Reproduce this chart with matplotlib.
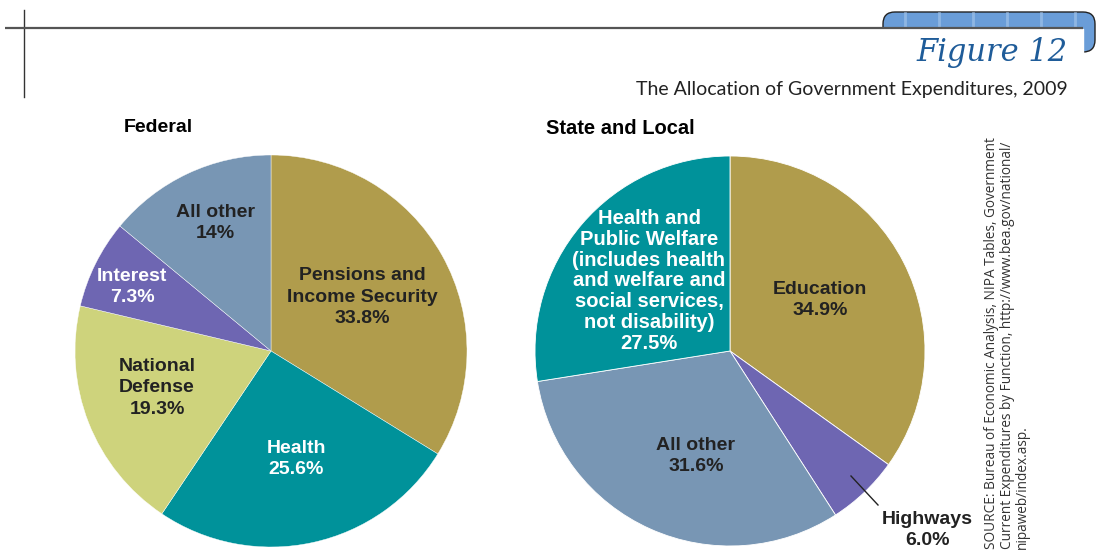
import matplotlib.pyplot as plt
from matplotlib.patches import FancyBboxPatch

# Federal spending shares (percent), clockwise from 12 o'clock
fed_labels = ["Pensions and\nIncome Security", "Health", "National\nDefense", "Interest", "All other"]
fed_values = [33.8, 25.6, 19.3, 7.3, 14.0]
fed_pct = ["33.8%", "25.6%", "19.3%", "7.3%", "14%"]

# State and local spending shares (percent), clockwise from 12 o'clock
sl_labels = ["Education", "Highways", "All other",
             "Health and\nPublic Welfare\n(includes health\nand welfare and\nsocial services,\nnot disability)"]
sl_values = [34.9, 6.0, 31.6, 27.5]
sl_pct = ["34.9%", "6.0%", "31.6%", "27.5%"]

gold = "#B09C4C"
teal = "#00929A"
khaki = "#CED37C"
purple = "#6E66B2"
slate = "#7896B4"

fed_colors = [gold, teal, khaki, purple, slate]
sl_colors = [gold, purple, slate, teal]

W, H = 1099, 552
fig = plt.figure(figsize=(W / 100, H / 100), dpi=100)
ax = fig.add_axes([0, 0, 1, 1])
ax.set_xlim(0, W)
ax.set_ylim(0, H)
ax.set_aspect("equal")
ax.axis("off")


def py(y):
    # convert a top-down pixel row into data y
    return H - y


lab_font = ["Liberation Sans", "DejaVu Sans"]

# header rules and tab
ax.plot([24, 24], [py(10), py(97)], color="#333333", lw=1.0)
tab = FancyBboxPatch((883, py(52)), 212, 40, boxstyle="round,pad=0,rounding_size=12",
                     fc="#6A9DD8", ec="#222222", lw=1.0, zorder=1)
ax.add_patch(tab)
ax.fill_between([840, 1083], py(28.8), py(58), color="white", zorder=2)
ax.plot([5, 1083], [py(28), py(28)], color="#555555", lw=1.6, zorder=3,
        solid_capstyle="butt")
for xx in range(905, 1080, 34):
    ax.plot([xx, xx], [py(13), py(27)], color="#A9C8EC", lw=2.0, alpha=0.6, zorder=2)

ax.text(1068, py(53), "Figure 12", ha="right", va="center", fontsize=22,
        family="DejaVu Serif", style="italic", color="#1F5C99", zorder=4)
ax.text(1068, py(89), "The Allocation of Government Expenditures, 2009", ha="right",
        va="center", fontsize=14, family="Lato", color="#222222")

ax.text(124, py(128), "Federal", ha="left", va="center", fontsize=14, weight="bold", family=lab_font)
ax.text(546, py(128), "State and Local", ha="left", va="center", fontsize=14.5, weight="bold", family=lab_font)

# pies
ax.pie(fed_values, colors=fed_colors, startangle=90, counterclock=False,
       center=(271, py(351)), radius=196, frame=True,
       wedgeprops=dict(linewidth=0.3, edgecolor="white"))
ax.pie(sl_values, colors=sl_colors, startangle=90, counterclock=False,
       center=(730, py(351)), radius=195, frame=True,
       wedgeprops=dict(linewidth=0.6, edgecolor="white"))
ax.set_xlim(0, W)
ax.set_ylim(0, H)
ax.axis("off")

lab_kw = dict(ha="center", va="center", fontsize=14, weight="bold", family=lab_font,
              linespacing=1.33)

# federal labels
fed_pos = [(362, 297), (296, 459), (157, 388), (132, 287), (215, 223)]
fed_txt = ["#222222", "white", "#222222", "white", "#222222"]
for name, pct, (x, y), c in zip(fed_labels, fed_pct, fed_pos, fed_txt):
    ax.text(x, py(y), name + "\n" + pct, color=c, **lab_kw)

# state and local labels
sl_pos = [(820, 300), (927, 530), (696, 456), (649, 281)]
sl_txt = ["#222222", "#222222", "#222222", "white"]
for name, pct, (x, y), c in zip(sl_labels, sl_pct, sl_pos, sl_txt):
    kw = dict(lab_kw)
    if name.startswith("Health"):
        kw["fontsize"] = 14.5
        kw["linespacing"] = 1.13
    ax.text(x, py(y), name + "\n" + pct, color=c, **kw)

# leader line for the highways slice
ax.plot([851, 878], [py(476), py(505)], color="#222222", lw=1.0)

ax.text(984, py(549),
        "SOURCE: Bureau of Economic Analysis, NIPA Tables, Government\n"
        "Current Expenditures by Function, http://www.bea.gov/national/\n"
        "nipaweb/index.asp.",
        rotation=90, ha="left", va="top", fontsize=9.8, family="Open Sans",
        color="#333333", linespacing=1.05, rotation_mode="anchor")

fig.savefig("out.png", dpi=100)
